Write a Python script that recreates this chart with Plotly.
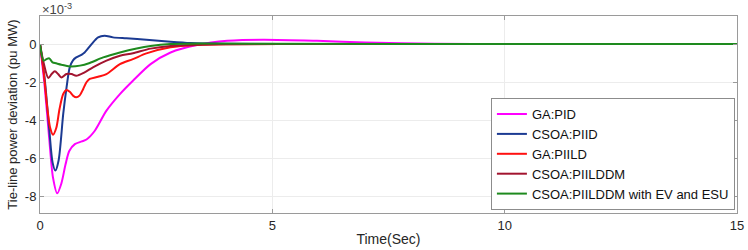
import plotly.graph_objects as go

# Values in units of 1e-3 pu MW (axis multiplier x10^-3)
t_ga_pid = [0, 0.1, 0.2, 0.28, 0.37, 0.46, 0.55, 0.63, 0.75, 0.9, 1.0, 1.18, 1.43, 1.72, 2.0, 2.38, 2.81, 3.38, 4.03, 4.8, 5.96, 7.0, 8.5, 10, 12.5, 15]
v_ga_pid = [0, -2.2, -5.0, -7.0, -7.82, -7.3, -6.3, -5.6, -5.24, -5.1, -5.0, -4.54, -3.49, -2.62, -1.92, -1.05, -0.44, -0.05, 0.17, 0.23, 0.17, 0.08, 0.02, 0, 0, 0]

t_csoa_piid = [0, 0.1, 0.2, 0.27, 0.33, 0.4, 0.5, 0.57, 0.64, 0.71, 0.78, 0.9, 0.96, 1.11, 1.25, 1.39, 1.57, 1.86, 2.29, 2.81, 3.24, 4.0, 6, 10, 15]
v_csoa_piid = [0, -1.8, -4.5, -6.2, -6.63, -6.1, -3.66, -2.3, -1.22, -0.85, -0.70, -0.55, -0.44, 0, 0.35, 0.44, 0.35, 0.30, 0.23, 0.12, 0.05, 0.01, 0, 0, 0]

t_ga_piild = [0, 0.08, 0.16, 0.22, 0.28, 0.35, 0.42, 0.5, 0.57, 0.64, 0.71, 0.78, 0.85, 0.93, 1.0, 1.07, 1.25, 1.43, 1.72, 2.0, 2.29, 2.81, 3.38, 4.0, 6, 10, 15]
v_ga_piild = [0, -1.5, -3.4, -4.4, -4.75, -4.4, -3.4, -2.62, -2.41, -2.5, -2.7, -2.79, -2.7, -2.35, -2.0, -1.83, -1.71, -1.57, -1.05, -0.79, -0.49, -0.17, -0.05, -0.01, 0, 0, 0]

t_csoa_piilddm = [0, 0.08, 0.18, 0.25, 0.32, 0.39, 0.46, 0.57, 0.68, 0.78, 0.96, 1.14, 1.43, 1.72, 2.0, 2.38, 2.81, 3.4, 4.0, 6, 10, 15]
v_csoa_piilddm = [0, -1.0, -1.78, -1.57, -1.43, -1.57, -1.75, -1.57, -1.57, -1.66, -1.48, -1.22, -0.87, -0.61, -0.48, -0.24, -0.10, -0.04, -0.01, 0, 0, 0]

t_csoa_ev_esu = [0, 0.08, 0.14, 0.2, 0.27, 0.35, 0.46, 0.64, 0.86, 1.07, 1.36, 1.72, 2.08, 2.38, 2.81, 3.5, 5.0, 10, 15]
v_csoa_ev_esu = [0, -0.87, -0.79, -0.75, -0.96, -1.01, -1.08, -1.17, -1.13, -0.99, -0.70, -0.44, -0.23, -0.10, 0.0, 0.03, 0.01, 0, 0]

series_names = ["GA:PID", "CSOA:PIID", "GA:PIILD", "CSOA:PIILDDM", "CSOA:PIILDDM with EV and ESU"]
series_colors = ["#FF00FF", "#1B3A92", "#FF1010", "#A2142F", "#1E8A1E"]
series_t = [t_ga_pid, t_csoa_piid, t_ga_piild, t_csoa_piilddm, t_csoa_ev_esu]
series_v = [v_ga_pid, v_csoa_piid, v_ga_piild, v_csoa_piilddm, v_csoa_ev_esu]

x_ticks = [0, 5, 10, 15]
y_ticks = [0, -2, -4, -6, -8]
y_tick_labels = ["0", "-2", "-4", "-6", "-8"]

FONT = "Arial, Liberation Sans, sans-serif"

fig = go.Figure()
for name, col, tt, vv in zip(series_names, series_colors, series_t, series_v):
    fig.add_trace(go.Scatter(
        x=tt, y=vv, name=name, mode="lines",
        line=dict(color=col, width=2, shape="spline", smoothing=0.8),
    ))

fig.update_layout(
    width=748, height=250,
    margin=dict(l=40, r=11, t=16, b=37, autoexpand=False),
    paper_bgcolor="white", plot_bgcolor="white",
    font=dict(family=FONT, size=13, color="#262626"),
    showlegend=True,
    legend=dict(
        x=0.997, y=0.015, xanchor="right", yanchor="bottom",
        bgcolor="white", bordercolor="#8c8c8c", borderwidth=1,
        font=dict(family=FONT, size=13, color="#111111"),
        itemwidth=30, tracegroupgap=0,
    ),
    xaxis=dict(
        range=[0, 15], tickvals=x_ticks, ticktext=[str(v) for v in x_ticks],
        showgrid=True, gridcolor="#ececec", gridwidth=1,
        showline=True, linecolor="#9a9a9a", linewidth=1, mirror="ticks",
        ticks="inside", ticklen=4, tickcolor="#9a9a9a",
        zeroline=False, automargin=False,
        title=dict(text="Time(Sec)", font=dict(family=FONT, size=14, color="#262626"), standoff=2),
        tickfont=dict(family=FONT, size=13, color="#262626"),
    ),
    yaxis=dict(
        range=[-8.85, 1.47], tickvals=y_ticks, ticktext=y_tick_labels,
        showgrid=True, gridcolor="#ececec", gridwidth=1,
        showline=True, linecolor="#9a9a9a", linewidth=1, mirror="ticks",
        ticks="inside", ticklen=4, tickcolor="#9a9a9a",
        zeroline=False, automargin=False,
        title=dict(text="Tie-line power deviation (pu MW)", font=dict(family=FONT, size=13, color="#262626"), standoff=4),
        tickfont=dict(family=FONT, size=13, color="#262626"),
    ),
    annotations=[dict(
        text="×10<sup>-3</sup>", xref="paper", yref="paper", x=0, y=1.0,
        xanchor="left", yanchor="bottom", showarrow=False,
        font=dict(family=FONT, size=13, color="#444444"), yshift=-3,
    )],
)

fig.write_html("out.html", config={"displayModeBar": False},
               post_script="document.body.style.margin='0px';")
